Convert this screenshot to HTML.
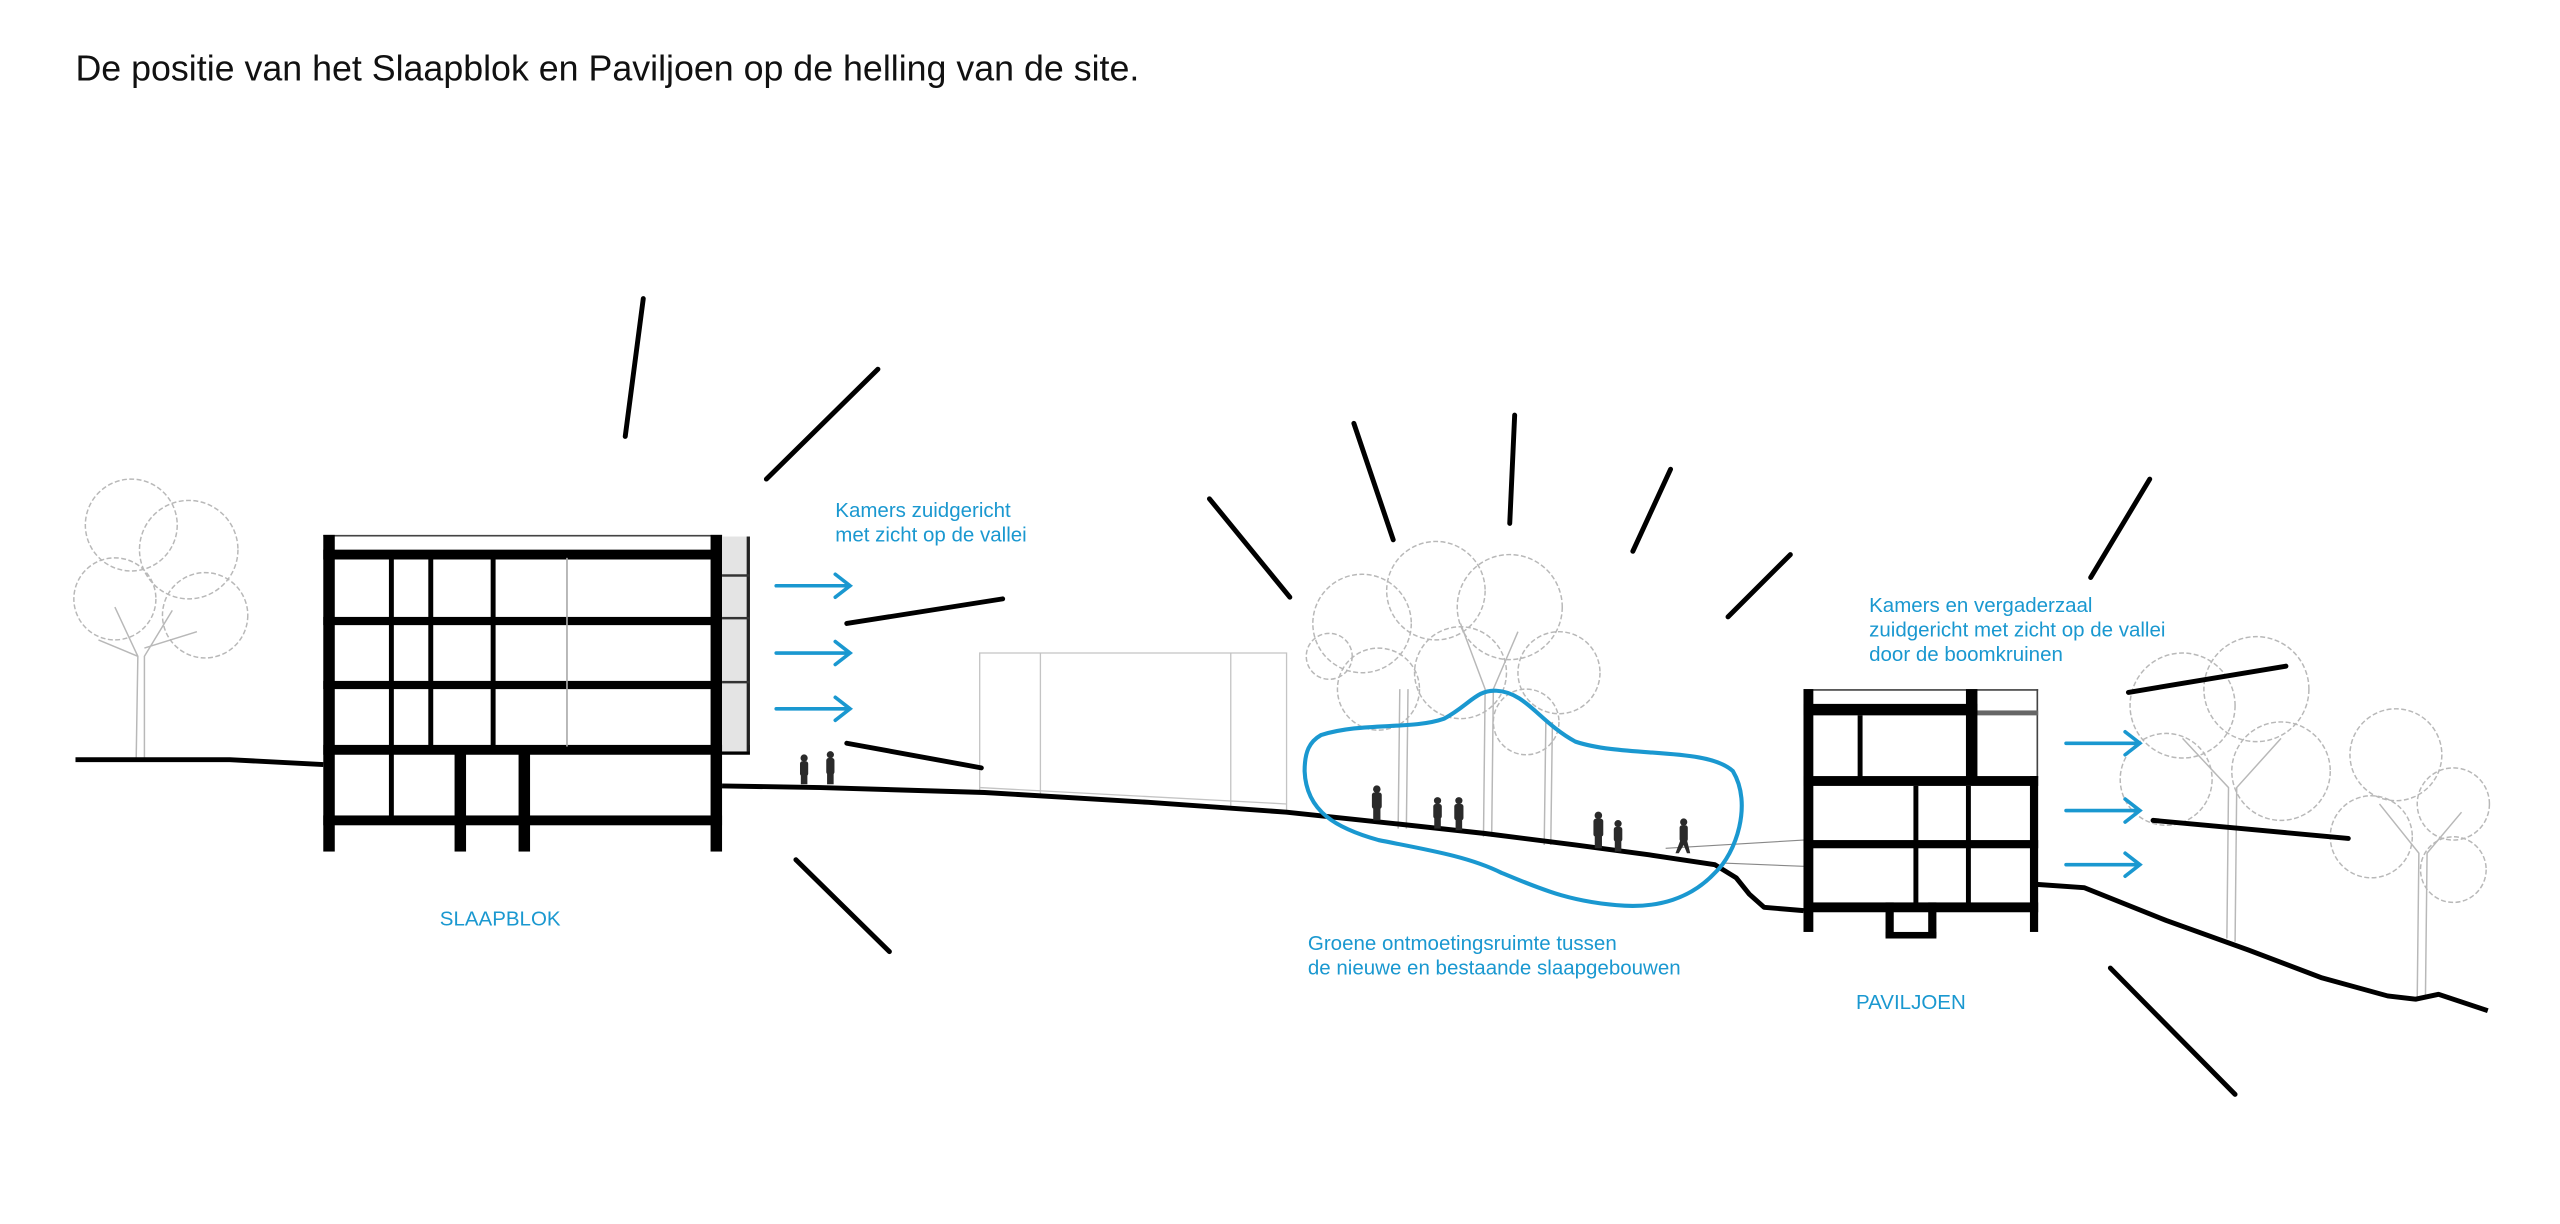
<!DOCTYPE html>
<html><head><meta charset="utf-8"><style>
html,body{margin:0;padding:0;background:#fff;}
svg{display:block;}
text{font-family:"Liberation Sans",Arial,sans-serif;}
</style></head><body>
<svg width="2560" height="1224" viewBox="0 0 1560 746" preserveAspectRatio="none" xmlns="http://www.w3.org/2000/svg">
<rect width="1560" height="746" fill="#fff"/>
<text x="46" y="49" font-size="21.8" fill="#111">De positie van het Slaapblok en Paviljoen op de helling van de site.</text>

<!-- trees -->
<g fill="none" stroke="#b8b8b8" stroke-width="0.9">
  <circle cx="80" cy="320" r="28" stroke-dasharray="3 1.5"/><circle cx="115" cy="335" r="30" stroke-dasharray="3 1.5"/>
  <circle cx="70" cy="365" r="25" stroke-dasharray="3 1.5"/><circle cx="125" cy="375" r="26" stroke-dasharray="3 1.5"/>
  <path d="M83 462 L84 400 L70 370 M88 462 L88 400 L105 372 M84 400 L60 390 M88 395 L120 385"/>
  <circle cx="830" cy="380" r="30" stroke-dasharray="3 1.5"/><circle cx="875" cy="360" r="30" stroke-dasharray="3 1.5"/>
  <circle cx="920" cy="370" r="32" stroke-dasharray="3 1.5"/><circle cx="950" cy="410" r="25" stroke-dasharray="3 1.5"/>
  <circle cx="840" cy="420" r="25" stroke-dasharray="3 1.5"/><circle cx="890" cy="410" r="28" stroke-dasharray="3 1.5"/>
  <circle cx="930" cy="440" r="20" stroke-dasharray="3 1.5"/><circle cx="810" cy="400" r="14" stroke-dasharray="3 1.5"/>
  <path d="M852 505 L853 420 M857 505 L858 420 M904 510 L905 420 L890 380 M909 510 L910 420 L925 385 M941 515 L942 440 M945 515 L946 440"/>
  <circle cx="1330" cy="430" r="32" stroke-dasharray="3 1.5"/><circle cx="1375" cy="420" r="32" stroke-dasharray="3 1.5"/>
  <circle cx="1320" cy="475" r="28" stroke-dasharray="3 1.5"/><circle cx="1390" cy="470" r="30" stroke-dasharray="3 1.5"/>
  <circle cx="1460" cy="460" r="28" stroke-dasharray="3 1.5"/><circle cx="1495" cy="490" r="22" stroke-dasharray="3 1.5"/>
  <circle cx="1445" cy="510" r="25" stroke-dasharray="3 1.5"/><circle cx="1495" cy="530" r="20" stroke-dasharray="3 1.5"/>
  <path d="M1357 572 L1358 480 L1330 450 M1362 574 L1363 480 L1390 450 M1473 608 L1474 520 L1450 490 M1478 608 L1479 520 L1500 495"/>
</g>

<g fill="none" stroke="#c4c4c4" stroke-width="0.8">
  <path d="M597 484 L597 398 L784 398 L784 496"/>
  <path d="M634 398 L634 486 M750 398 L750 494 M597 480 L784 490"/>
</g>

<g fill="none" stroke="#000" stroke-width="3" stroke-linejoin="round">
  <path d="M46 463 L140 463 L197 466"/>
  <path d="M440 479 L500 480 L600 483 L700 489 L784 495 L850 502 L905 508 L960 515 L1005 521 L1045 527 L1058 535 L1066 545 L1075 553 L1099 555"/>
  <path d="M1241 539 L1270 541 L1320 561 L1370 579 L1415 596 L1455 607 L1472 609 L1486 606 L1516 616"/>
</g>
<path d="M1015 517 L1099 512 M1050 526 L1099 528" stroke="#888" stroke-width="0.7" fill="none"/>

<g fill="#000">
  <rect x="197" y="326" width="243" height="1" fill="#444"/>
  <rect x="197" y="335" width="243" height="6"/>
  <rect x="197" y="376" width="243" height="5"/>
  <rect x="197" y="415" width="243" height="5"/>
  <rect x="197" y="454" width="260" height="6"/>
  <rect x="197" y="497" width="243" height="6"/>
  <rect x="197" y="326" width="7" height="193"/>
  <rect x="433" y="326" width="7" height="193"/>
  <rect x="237" y="340" width="3" height="160"/>
  <rect x="261" y="340" width="3" height="116"/>
  <rect x="299" y="340" width="3" height="116"/>
  <rect x="277" y="457" width="7" height="62"/>
  <rect x="316" y="457" width="7" height="62"/>
  <rect x="345" y="340" width="1" height="115" fill="#aaa"/>
  <rect x="440" y="327" width="16" height="131" fill="#e4e4e4"/>
  <rect x="455" y="327" width="2" height="131" fill="#222"/>
  <rect x="440" y="350" width="17" height="1.5" fill="#333"/>
  <rect x="440" y="376" width="17" height="1.5" fill="#333"/>
  <rect x="440" y="415" width="17" height="1.5" fill="#333"/>
</g>

<g fill="#000">
  <rect x="1099" y="420" width="143" height="1" fill="#444"/>
  <rect x="1241" y="420" width="1" height="54" fill="#444"/>
  <rect x="1099" y="429" width="106" height="7"/>
  <rect x="1205" y="433" width="37" height="3" fill="#666"/>
  <rect x="1099" y="420" width="6" height="148"/>
  <rect x="1198" y="420" width="7" height="56"/>
  <rect x="1132" y="436" width="3" height="38"/>
  <rect x="1099" y="473" width="143" height="6"/>
  <rect x="1099" y="512" width="143" height="5"/>
  <rect x="1099" y="550" width="143" height="6"/>
  <rect x="1237" y="473" width="5" height="95"/>
  <rect x="1166" y="479" width="3" height="72"/>
  <rect x="1198" y="479" width="3" height="72"/>
  <rect x="1149" y="550" width="5" height="21"/><rect x="1175" y="550" width="5" height="21"/>
  <rect x="1149" y="568" width="31" height="4"/>
</g>

<g fill="#2a2a2a">
  <g transform="translate(490,478)"><circle cx="0" cy="-16" r="2.2"/><rect x="-2.5" y="-14" width="5" height="9" rx="1.5"/><rect x="-2" y="-6" width="4" height="6"/></g>
  <g transform="translate(506,478)"><circle cx="0" cy="-18" r="2.2"/><rect x="-2.5" y="-16" width="5" height="10" rx="1.5"/><rect x="-2" y="-7" width="4" height="7"/></g>
  <g transform="translate(839,500)"><circle cx="0" cy="-19" r="2.3"/><rect x="-3" y="-17" width="6" height="10" rx="1.5"/><rect x="-2.2" y="-8" width="4.4" height="8"/></g>
  <g transform="translate(876,505)"><circle cx="0" cy="-17" r="2.2"/><rect x="-2.6" y="-15" width="5.2" height="9" rx="1.5"/><rect x="-2" y="-7" width="4" height="7"/></g>
  <g transform="translate(889,506)"><circle cx="0" cy="-18" r="2.2"/><rect x="-2.8" y="-16" width="5.6" height="10" rx="1.5"/><rect x="-2" y="-7" width="4" height="7"/></g>
  <g transform="translate(974,517)"><circle cx="0" cy="-20" r="2.3"/><rect x="-3" y="-18" width="6" height="11" rx="1.5"/><rect x="-2.2" y="-8" width="4.4" height="8"/></g>
  <g transform="translate(986,519)"><circle cx="0" cy="-17" r="2.2"/><rect x="-2.6" y="-15" width="5.2" height="9" rx="1.5"/><rect x="-2" y="-7" width="4" height="7"/></g>
  <g transform="translate(1026,520)"><circle cx="0" cy="-19" r="2.2"/><rect x="-2.5" y="-17" width="5" height="10" rx="1.5"/><path d="M-2 -8 L-5 0 L-3 0 L0 -5 L2 0 L4 0 L2 -8Z"/></g>
</g>

<path d="M805 448 C830 440 860 445 880 438 C895 430 900 420 912 421 C930 422 938 440 960 452 C990 462 1040 455 1056 470 C1068 490 1058 520 1045 532 C1030 548 1010 553 990 552 C955 550 935 540 915 532 C895 522 870 518 840 512 C815 505 796 495 795 470 C795 458 798 452 805 448 Z" fill="none" stroke="#1a98d0" stroke-width="2.5"/>

<g stroke="#000" stroke-width="3" stroke-linecap="round">
  <line x1="392" y1="182" x2="381" y2="266"/>
  <line x1="535" y1="225" x2="467" y2="292"/>
  <line x1="611" y1="365" x2="516" y2="380"/>
  <line x1="516" y1="453" x2="598" y2="468"/>
  <line x1="485" y1="524" x2="542" y2="580"/>
  <line x1="737" y1="304" x2="786" y2="364"/>
  <line x1="825" y1="258" x2="849" y2="329"/>
  <line x1="923" y1="253" x2="920" y2="319"/>
  <line x1="1018" y1="286" x2="995" y2="336"/>
  <line x1="1091" y1="338" x2="1053" y2="376"/>
  <line x1="1310" y1="292" x2="1274" y2="352"/>
  <line x1="1393" y1="406" x2="1297" y2="422"/>
  <line x1="1312" y1="500" x2="1431" y2="511"/>
  <line x1="1286" y1="590" x2="1362" y2="667"/>
</g>

<g stroke="#1a98d0" stroke-width="2.2" fill="none" stroke-linecap="round">
  <path d="M473 357 L518 357 M509 350 L518 357 L509 364"/>
  <path d="M473 398 L518 398 M509 391 L518 398 L509 405"/>
  <path d="M473 432 L518 432 M509 425 L518 432 L509 439"/>
  <path d="M1259 453 L1304 453 M1295 446 L1304 453 L1295 460"/>
  <path d="M1259 494 L1304 494 M1295 487 L1304 494 L1295 501"/>
  <path d="M1259 527 L1304 527 M1295 520 L1304 527 L1295 534"/>
</g>

<g fill="#1a98d0" font-size="12.5">
  <text x="509" y="315">Kamers zuidgericht</text>
  <text x="509" y="330">met zicht op de vallei</text>
  <text x="268" y="564">SLAAPBLOK</text>
  <text x="1139" y="373">Kamers en vergaderzaal</text>
  <text x="1139" y="388">zuidgericht met zicht op de vallei</text>
  <text x="1139" y="403">door de boomkruinen</text>
  <text x="797" y="579">Groene ontmoetingsruimte tussen</text>
  <text x="797" y="594">de nieuwe en bestaande slaapgebouwen</text>
  <text x="1131" y="615">PAVILJOEN</text>
</g>
</svg>
</body></html>
